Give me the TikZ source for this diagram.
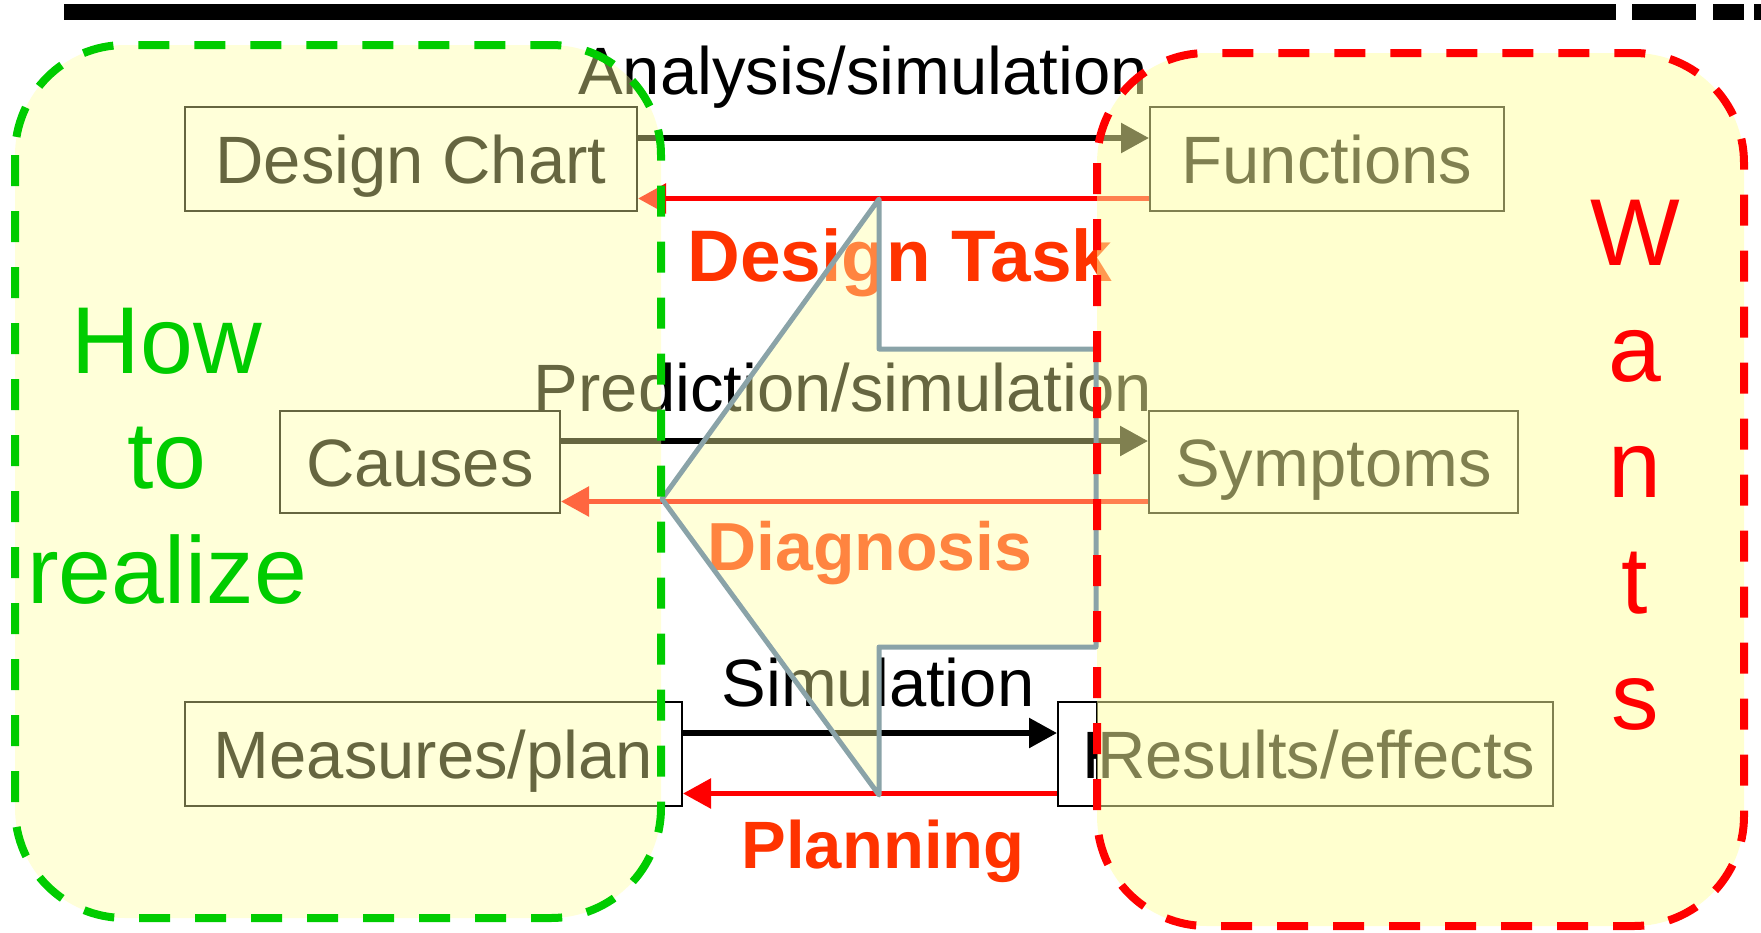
\documentclass[tikz,border=0pt]{standalone}
\usepackage{fontspec}
\setmainfont{Liberation Sans}
\usetikzlibrary{arrows.meta}
\definecolor{tintyellow}{RGB}{255,255,160}
\definecolor{howgreen}{RGB}{0,204,0}
\definecolor{wantred}{RGB}{255,0,0}
\definecolor{taskred}{RGB}{255,51,0}
\definecolor{arrowgray}{RGB}{138,163,168}
\begin{document}
\begin{tikzpicture}[x=0.5pt,y=-0.5pt]
    \useasboundingbox (0,0) rectangle (1761,932);
    % bar along the top
    \draw[line width=8pt] (64,12) -- (1616,12);
    \foreach \a/\b in {1632/1696,1713/1744,1754/1761}
        \draw[line width=8pt] (\a,12) -- (\b,12);
    \begin{scope}
        \tikzstyle{every node}=[draw=black, fill=white, line width=1pt, inner sep=0pt, text height=24pt, text depth=0pt, minimum height=52pt, font=\fontsize{33.5}{40}\selectfont]
        \node[minimum width=226pt] (chart) at (411,159) {Design Chart};
        \node[minimum width=177pt] (func) at (1327,159) {Functions};
        \node[minimum width=140pt, minimum height=51pt] (cause) at (420,462) {Causes};
        \node[minimum width=184.5pt, minimum height=51pt] (symp) at (1333.5,462) {Symptoms};
        \node[minimum width=248.5pt] (plan) at (433.5,754) {Measures/plan};
        \node[text width=223.5pt, inner xsep=12pt, align=left] (resback) at (1305.5,754) {Results/effects};
        \node[text width=228pt, align=left] (res) at (1325,754) {Results/effects};
    \end{scope}
    \begin{scope}
        \tikzstyle{every edge}=[draw, line width=2.8pt, -{Triangle[length=14pt,width=14.5pt]}]
        \path
        ([yshift=10.5pt]chart.east) edge ([yshift=10.5pt]func.west)
        ([yshift=-19.75pt]func.west) edge[wantred] ([yshift=-19.75pt]chart.east)
        ([yshift=10.5pt]cause.east) edge ([yshift=10.5pt]symp.west)
        ([yshift=-19.75pt]symp.west) edge[wantred] ([yshift=-19.75pt]cause.east)
        ([yshift=10.5pt]plan.east) edge ([yshift=10.5pt]resback.west)
        ([yshift=-19.75pt]resback.west) edge[wantred] ([yshift=-19.75pt]plan.east);
    \end{scope}
    \begin{scope}
        \tikzstyle{every node}=[anchor=base, inner sep=0pt, font=\fontsize{33.5}{40}\selectfont]
        \node (analysis) at (863,94) {Analysis/simulation};
        \node (predict) at (843,411) {Prediction/simulation};
        \node (simul) at (878,706) {Simulation};
        \node[text=taskred, font=\bfseries\fontsize{36.5}{44}\selectfont] (task) at (900,281) {Design Task};
        \node[text=taskred, font=\bfseries\fontsize{34}{40}\selectfont] (diag) at (870,570) {Diagnosis};
        \node[text=taskred, font=\bfseries\fontsize{33.5}{40}\selectfont] (planning) at (883,868) {Planning};
    \end{scope}
    % tinted areas
    \fill[tintyellow, opacity=0.4, rounded corners=55pt] (15,45) rectangle (661,918);
    \fill[tintyellow, opacity=0.4] (662,499) -- (879,199) -- (879,349) -- (1096,349) -- (1096,647) -- (879,647) -- (879,795) -- cycle;
    \fill[tintyellow, opacity=0.5, rounded corners=55pt] (1097,53) rectangle (1744,926);
    \draw[arrowgray, line width=2.5pt, line join=round] (662,499) -- (879,199) -- (879,349) -- (1096,349) -- (1096,647) -- (879,647) -- (879,795) -- cycle;
    \draw[howgreen, line width=4pt, dash pattern=on 15.5pt off 12.5pt, rounded corners=55pt] (15,45) rectangle (661,918);
    \draw[wantred, line width=4pt, dash pattern=on 15.5pt off 12.5pt, rounded corners=55pt] (1097,53) rectangle (1744,926);
    \node[text=howgreen, align=center, anchor=north, inner sep=0pt, font=\fontsize{47.5}{57.5}\selectfont] (how) at (167,308) {How\\to\\realize};
    \node[text=wantred, align=center, anchor=north, inner sep=0pt, font=\fontsize{47.5}{58}\selectfont] (wants) at (1635,200) {W\\a\\n\\t\\s};
\end{tikzpicture}
\end{document}
